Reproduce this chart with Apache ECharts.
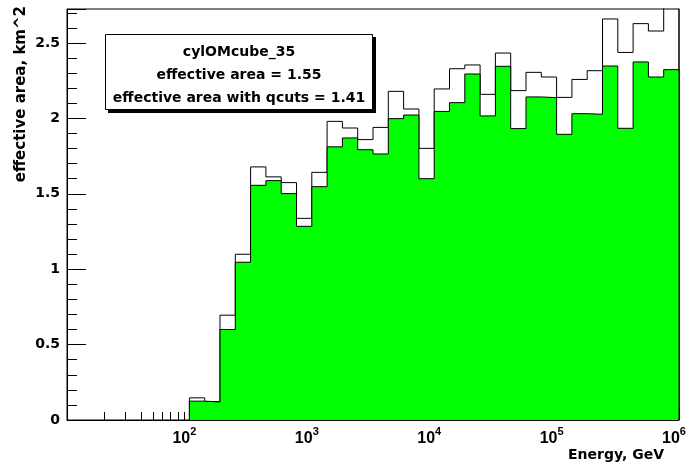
<!DOCTYPE html>
<html>
<head>
<meta charset="utf-8">
<script src="https://cdn.jsdelivr.net/npm/echarts@6/dist/echarts.min.js"></script>
<style>
html,body{margin:0;padding:0;background:#fff;}
#chart{width:692px;height:464px;}
</style>
</head>
<body>
<div id="chart"></div>
<script>
// ---- data ----
const firstEdgeLog10 = 2;          // first bin starts at 10^2 GeV
const binsPerDecade = 8;           // 32 bins up to 10^6 GeV
const effAreaAll = [0.147, 0.121, 0.695, 1.099, 1.678, 1.612, 1.574, 1.337,
                    1.642, 1.980, 1.936, 1.859, 1.940, 2.179, 2.062, 1.801,
                    2.195, 2.329, 2.354, 2.159, 2.433, 2.184, 2.305, 2.274,
                    2.139, 2.258, 2.316, 2.659, 2.437, 2.628, 2.579, 2.760];
const effAreaQcuts = [0.125, 0.120, 0.600, 1.046, 1.556, 1.587, 1.501, 1.284,
                      1.547, 1.811, 1.870, 1.792, 1.764, 1.998, 2.022, 1.600,
                      2.046, 2.104, 2.294, 2.016, 2.345, 1.932, 2.142, 2.137,
                      1.894, 2.031, 2.027, 2.347, 1.934, 2.374, 2.274, 2.323];
const xMinorTicks = [20, 30, 40, 50, 60, 70, 80, 90];
const yTickLabels = ['0', '0.5', '1', '1.5', '2', '2.5'];
const legendLines = ['cylOMcube_35', 'effective area = 1.55', 'effective area with qcuts = 1.41'];
const xTitle = 'Energy, GeV';
const yTitle = 'effective area, km^2';

// ---- build histogram step data ----
function edge(i) { return Math.pow(10, firstEdgeLog10 + i / binsPerDecade); }
function histData(vals) {
  const d = [[edge(0), 0]];
  for (let i = 0; i < vals.length; i++) d.push([edge(i), vals[i]]);
  d.push([edge(vals.length), vals[vals.length - 1]]);
  d.push([edge(vals.length), 0]);
  return d;
}

const FONT = 'DejaVu Sans';
const chart = echarts.init(document.getElementById('chart'), null, {renderer: 'canvas'});
const option = {
  animation: false,
  backgroundColor: '#fff',
  grid: {left: 67, right: 13, top: 9, bottom: 44, show: true, borderColor: '#000', borderWidth: 1, backgroundColor: 'transparent'},
  xAxis: {
    type: 'log', logBase: 10, min: 10, max: 1e6, splitNumber: 5,
    axisLine: {lineStyle: {color: '#000', width: 1}},
    axisTick: {inside: true, length: 12, lineStyle: {color: '#000'}},
    splitLine: {show: false},
    axisLabel: {
      margin: 6,
      formatter: function (v) {
        const n = Math.round(Math.log10(v));
        if (n < 2) return '';
        return '{b|10}{s|' + n + '}';
      },
      rich: {
        b: {fontFamily: 'Liberation Sans', fontWeight: 'bold', fontSize: 16, color: '#000', padding: [5, 0, 0, 0]},
        s: {fontFamily: 'Liberation Sans', fontWeight: 'bold', fontSize: 11, color: '#000', verticalAlign: 'top', padding: [0, 10, 0, 0]}
      }
    }
  },
  yAxis: [{
    type: 'value', min: 0, max: 2.725, interval: 0.5,
    axisLine: {show: true, lineStyle: {color: '#000', width: 1}},
    axisTick: {show: true, inside: true, length: 19, lineStyle: {color: '#000'}},
    splitLine: {show: false},
    axisLabel: {
      margin: 7, color: '#000', fontFamily: FONT, fontWeight: 'bold', fontSize: 14,
      formatter: function (v) {
        const k = Math.round(v / 0.5);
        if (Math.abs(v - k * 0.5) > 1e-6 || k >= yTickLabels.length) return '';
        return yTickLabels[k];
      }
    }
  }, {
    type: 'value', min: 0, max: 2.725, interval: 0.1, position: 'left', offset: 0,
    axisLine: {show: false},
    axisTick: {show: true, inside: true, length: 10, lineStyle: {color: '#000'}},
    axisLabel: {show: false},
    splitLine: {show: false}
  }],
  series: [{
    type: 'line', name: 'all', step: 'end', symbol: 'none', clip: true,
    data: histData(effAreaAll),
    lineStyle: {color: '#000', width: 1},
    z: 2
  }, {
    type: 'line', name: 'qcuts', step: 'end', symbol: 'none', clip: true,
    data: histData(effAreaQcuts),
    lineStyle: {color: '#000', width: 1},
    areaStyle: {color: '#00ff00', opacity: 1},
    z: 3
  }, {
    type: 'custom', name: 'minorTicks', clip: true,
    data: xMinorTicks.map(v => [v, 0]),
    renderItem: function (params, api) {
      const p = api.coord([api.value(0), 0]);
      const x = Math.round(p[0]) + 0.5;
      return {type: 'line', shape: {x1: x, y1: p[1], x2: x, y2: p[1] - 8}, style: {stroke: '#000', lineWidth: 1}};
    },
    z: 4
  }],
  graphic: [
    {type: 'rect', shape: {x: 108, y: 37, width: 268, height: 76}, style: {fill: '#000'}, z: 10},
    {type: 'rect', shape: {x: 105.5, y: 34.5, width: 267, height: 75}, style: {fill: '#fff', stroke: '#000', lineWidth: 1}, z: 11},
    {type: 'text', x: 239, y: 52, z: 12, style: {text: legendLines[0], fill: '#000', font: 'bold 14px "DejaVu Sans"', textAlign: 'center', textVerticalAlign: 'middle'}},
    {type: 'text', x: 239, y: 75, z: 12, style: {text: legendLines[1], fill: '#000', font: 'bold 14px "DejaVu Sans"', textAlign: 'center', textVerticalAlign: 'middle'}},
    {type: 'text', x: 239, y: 98, z: 12, style: {text: legendLines[2], fill: '#000', font: 'bold 14px "DejaVu Sans"', textAlign: 'center', textVerticalAlign: 'middle'}},
    {type: 'text', x: 21, y: 6, rotation: Math.PI / 2, z: 12, style: {text: yTitle, fill: '#000', font: 'bold 15px "DejaVu Sans"', textAlign: 'right', textVerticalAlign: 'middle'}},
    {type: 'text', x: 664, y: 455, z: 12, style: {text: xTitle, fill: '#000', font: 'bold 14px "DejaVu Sans"', textAlign: 'right', textVerticalAlign: 'middle'}}
  ]
};
chart.setOption(option);
</script>
</body>
</html>
